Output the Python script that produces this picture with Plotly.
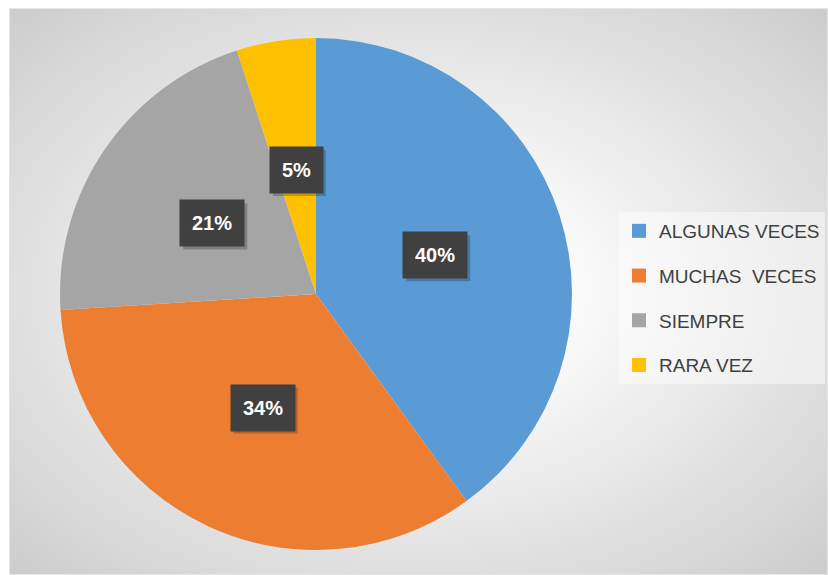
import base64
import math
import plotly.graph_objects as go

# ---- data ----
categories = ["ALGUNAS VECES", "MUCHAS  VECES", "SIEMPRE", "RARA VEZ"]
values = [40, 34, 21, 5]
colors = ["#5B9BD5", "#ED7D31", "#A5A5A5", "#FFC000"]

W, H = 828, 575
# pie geometry (pixels)
PCX, PCY, PR = 316, 294, 256

svg = (
    '<svg xmlns="http://www.w3.org/2000/svg" width="819" height="567" viewBox="0 0 819 567" preserveAspectRatio="none">'
    '<defs><radialGradient id="g" cx="0.5" cy="0.5" r="0.72">'
    '<stop offset="0" stop-color="#ffffff"/><stop offset="0.25" stop-color="#fbfbfb"/>'
    '<stop offset="1" stop-color="#cbcbcb"/></radialGradient></defs>'
    '<rect x="0" y="0" width="819" height="567" fill="url(#g)"/>'
    '<rect x="0.5" y="0.5" width="818" height="566" fill="none" stroke="#e6e6e6" stroke-width="1"/>'
    '</svg>'
)
bg_uri = "data:image/svg+xml;base64," + base64.b64encode(svg.encode()).decode()

fig = go.Figure()
fig.add_trace(go.Pie(
    labels=categories, values=values, sort=False, direction="clockwise", rotation=0,
    marker=dict(colors=colors, line=dict(width=0)),
    textinfo="none", hoverinfo="label+percent", showlegend=False,
    domain=dict(x=[(PCX - PR) / W, (PCX + PR) / W], y=[1 - (PCY + PR) / H, 1 - (PCY - PR) / H]),
))

# legend entries
for i, (c, col) in enumerate(zip(categories, colors)):
    fig.add_trace(go.Scatter(
        x=[None], y=[None], mode="markers", name=c, legendgroup=str(i),
        marker=dict(symbol="square", size=14, color=col), showlegend=True,
    ))

# percentage labels (dark boxes with soft shadow)
total = sum(values)
annotations = []
shapes = []
cum = 0
for v in values:
    mid = (cum + v / 2) / total * 2 * math.pi
    cum += v
    lx = PCX + 0.49 * PR * math.sin(mid)
    ly = PCY - 0.49 * PR * math.cos(mid)
    txt = f"{round(v / total * 100)}%"
    bw = 11.1 * (len(txt) - 1) + 17.8 + 24
    bh = 46
    shapes.append(dict(
        type="rect", xref="paper", yref="paper", layer="above", line=dict(width=0),
        fillcolor="rgba(0,0,0,0.22)",
        x0=(lx - bw / 2 + 3) / W, x1=(lx + bw / 2 + 3) / W,
        y0=1 - (ly + bh / 2 + 3) / H, y1=1 - (ly - bh / 2 + 3) / H,
    ))
    annotations.append(dict(
        x=lx / W, y=1 - ly / H, xref="paper", yref="paper", showarrow=False,
        xanchor="center", yanchor="middle",
        text=f"<b>{txt}</b>", font=dict(family="Liberation Sans", size=20, color="white"),
        bgcolor="#404040", borderpad=12,
    ))

fig.update_layout(
    width=W, height=H, margin=dict(l=0, r=0, t=0, b=0, autoexpand=False),
    paper_bgcolor="white", plot_bgcolor="rgba(0,0,0,0)",
    xaxis=dict(visible=False), yaxis=dict(visible=False),
    images=[dict(source=bg_uri, xref="paper", yref="paper", x=9 / W, y=1 - 8 / H,
                 sizex=(W - 9) / W, sizey=(H - 8) / H, xanchor="left", yanchor="top",
                 sizing="stretch", layer="below")],
    legend=dict(x=619 / W, y=1 - 212 / H, xanchor="left", yanchor="top",
                bgcolor="rgba(255,255,255,0.45)", borderwidth=0,
                font=dict(family="Liberation Sans", size=19, color="#404040"),
                tracegroupgap=17, traceorder="grouped", itemwidth=30),
    annotations=annotations,
    shapes=shapes,
)

fig.write_html("out.html", post_script="document.body.style.margin='0';",
               config={"displayModeBar": False})
